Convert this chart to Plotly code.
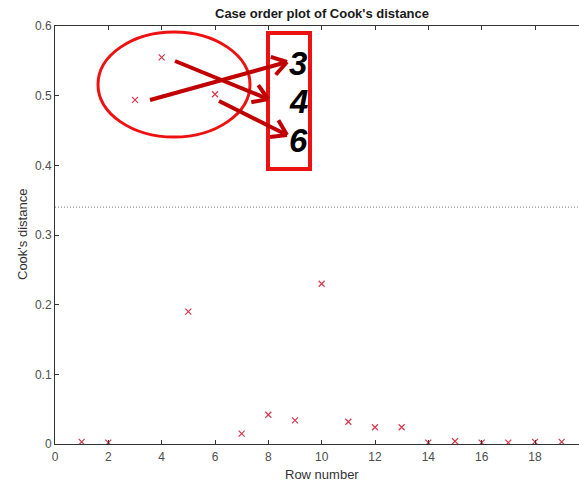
import math
import plotly.graph_objects as go

# Cook's distance per observation
rows = list(range(1, 20))
cooks_d = [0.003, 0.002, 0.494, 0.555, 0.190, 0.502, 0.015, 0.042, 0.034, 0.230,
           0.032, 0.024, 0.024, 0.002, 0.004, 0.002, 0.002, 0.003, 0.003]
threshold = 0.34
x_ticks = [0, 2, 4, 6, 8, 10, 12, 14, 16, 18]
y_ticks = [0, 0.1, 0.2, 0.3, 0.4, 0.5, 0.6]
callout_labels = ["3", "4", "6"]

W, H = 579, 481
ML, MR, MT, MB = 55, 0, 26, 37
X_MAX = 19.65
Y_MAX = 0.6
px_per_x = (W - ML - MR) / X_MAX
px_per_y = (H - MT - MB) / Y_MAX


def to_data(px, py):
    """Convert page pixel position into axis coordinates (for overlay shapes)."""
    return (px - ML) / px_per_x, (H - MB - py) / px_per_y


fig = go.Figure()
fig.add_trace(go.Scatter(
    x=rows, y=cooks_d, mode="markers",
    marker=dict(symbol="x-thin", size=6, line=dict(color="#d33a4c", width=1.2)),
    showlegend=False, hoverinfo="skip",
))

shapes = []
# dotted reference line
shapes.append(dict(type="line", xref="x", yref="y", x0=0, x1=X_MAX, y0=threshold, y1=threshold,
                   line=dict(color="#7a7a7a", width=1, dash="1px,2px")))

# highlight ellipse
ex0, ey0 = to_data(98, 137)
ex1, ey1 = to_data(250, 32)
shapes.append(dict(type="circle", xref="x", yref="y", x0=ex0, x1=ex1, y0=ey0, y1=ey1,
                   line=dict(color="#ee1111", width=3)))

# label box
bx0, by0 = to_data(268, 169)
bx1, by1 = to_data(310, 33)
shapes.append(dict(type="rect", xref="x", yref="y", x0=bx0, x1=bx1, y0=by0, y1=by1,
                   line=dict(color="#ee1111", width=4)))

# arrows: shaft plus open chevron head
arrows = [((150, 100), (287, 62)), ((175, 61), (268, 99)), ((219, 101), (287, 135))]
ARROW_RED = "#c00000"
for (sx, sy), (tx, ty) in arrows:
    ang = math.atan2(ty - sy, tx - sx)
    head = 17
    spread = math.radians(33)
    pts = []
    for s in (spread, -spread):
        pts.append((tx - head * math.cos(ang + s), ty - head * math.sin(ang + s)))
    a0 = to_data(sx, sy)
    a1 = to_data(tx, ty)
    shapes.append(dict(type="line", xref="x", yref="y", x0=a0[0], y0=a0[1], x1=a1[0], y1=a1[1],
                       line=dict(color=ARROW_RED, width=4)))
    for hx, hy in pts:
        h = to_data(hx, hy)
        shapes.append(dict(type="line", xref="x", yref="y", x0=h[0], y0=h[1], x1=a1[0], y1=a1[1],
                           line=dict(color=ARROW_RED, width=4)))

annotations = []
for lbl, py in zip(callout_labels, [63, 101.5, 140]):
    lx, ly = to_data(298, py)
    annotations.append(dict(x=lx, y=ly, xref="x", yref="y", text="<b><i>" + lbl + "</i></b>",
                            showarrow=False, font=dict(family="Liberation Sans", size=33, color="black"),
                            xanchor="center", yanchor="middle"))

annotations.append(dict(x=10, y=1, xref="x", yref="paper", yshift=3,
                        text="<b>Case order plot of Cook's distance</b>", showarrow=False,
                        xanchor="center", yanchor="bottom",
                        font=dict(family="Liberation Sans", size=13, color="#1a1a1a")))
annotations.append(dict(x=10, y=0, xref="x", yref="paper", yshift=-21,
                        text="Row number", showarrow=False, xanchor="center", yanchor="top",
                        font=dict(family="Liberation Sans", size=13, color="#333333")))
annotations.append(dict(x=0, y=0.5, xref="paper", yref="paper", xshift=-33,
                        text="Cook's distance", showarrow=False, textangle=-90,
                        xanchor="center", yanchor="middle",
                        font=dict(family="Liberation Sans", size=13, color="#333333")))

fig.update_layout(
    width=W, height=H,
    margin=dict(l=ML, r=MR, t=MT, b=MB),
    paper_bgcolor="white", plot_bgcolor="white",
    shapes=shapes, annotations=annotations,
    font=dict(family="Liberation Sans", size=12, color="#4d4d4d"),
    xaxis=dict(range=[0, X_MAX], tickvals=x_ticks, ticks="inside", ticklen=4, tickcolor="#333333",
               showline=True, linecolor="#333333", linewidth=1, mirror="ticks",
               showgrid=False, zeroline=False, ticklabelstandoff=2,
               tickfont=dict(size=12, color="#4d4d4d")),
    yaxis=dict(range=[0, Y_MAX], tickvals=y_ticks, ticktext=["0", "0.1", "0.2", "0.3", "0.4", "0.5", "0.6"],
               ticks="inside", ticklen=4, tickcolor="#333333",
               showline=True, linecolor="#333333", linewidth=1,
               showgrid=False, zeroline=False, tickfont=dict(size=12, color="#4d4d4d")),
)

fig.write_html("out.html")
